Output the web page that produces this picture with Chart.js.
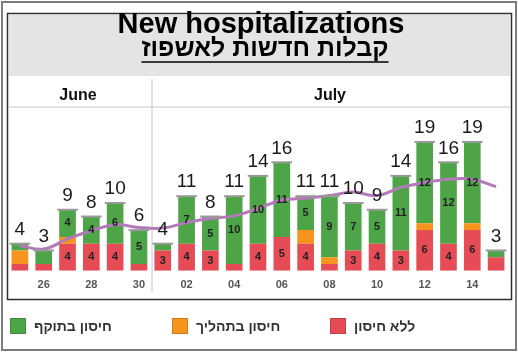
<!DOCTYPE html>
<html><head><meta charset="utf-8">
<script src="https://cdn.jsdelivr.net/npm/chart.js@4/dist/chart.umd.min.js"></script>
<style>html,body{margin:0;padding:0;background:#fff}#wrap{width:518px;height:354px}</style>
</head><body><div id="wrap"><canvas id="c" width="518" height="354"></canvas></div>
<script>
const dates = ['25','26','27','28','29','30','01','02','03','04','05','06','07','08','09','10','11','12','13','14','15'];
const vaccinated   = [1,2,4,4,6,5,1,7,5,10,10,11,5,9,7,5,11,12,12,12,1];
const inProcess    = [2,0,1,0,0,0,0,0,0,0,0,0,2,1,0,0,0,1,0,1,0];
const unvaccinated = [1,1,4,4,4,1,3,4,3,1,4,5,4,1,3,4,3,6,4,6,2];
const movingAvg    = [3.7,3.2,4.7,5.9,6.8,6.4,6.3,7.1,7.7,8.1,9.2,10.4,10.7,11.1,11.6,11.1,12.3,13.0,13.5,13.5,12.4];
const seriesNames = ['חיסון בתוקף','חיסון בתהליך','ללא חיסון'];
const titleEn = 'New hospitalizations';
const titleHe = 'קבלות חדשות לאשפוז';
const months = ['June','July'];

const GREEN='#4ea547', ORANGE='#f7941d', RED='#e64c55', PURPLE='#b27ab8';
const FONT = '"Liberation Sans","DejaVu Sans",Arial,sans-serif';

const framePlugin = {
  id:'frame',
  beforeDraw(chart){
    const ctx=chart.ctx;
    ctx.save();
    ctx.fillStyle='#fff'; ctx.fillRect(0,0,518,354);
    ctx.fillStyle='#e4e4e4'; ctx.fillRect(9,15,501,61);
    ctx.strokeStyle='#7c7c7c'; ctx.lineWidth=2; ctx.strokeRect(2,2,514,348);
    ctx.strokeStyle='#2e2e2e'; ctx.lineWidth=1.5; ctx.strokeRect(7.5,13.5,504,286);
    ctx.strokeStyle='#dadada'; ctx.lineWidth=1.5;
    ctx.beginPath(); ctx.moveTo(9,107); ctx.lineTo(510,107); ctx.stroke();
    ctx.beginPath(); ctx.moveTo(152,79); ctx.lineTo(152,292); ctx.stroke();
    // titles
    ctx.fillStyle='#000'; ctx.textAlign='center'; ctx.textBaseline='alphabetic';
    ctx.font='bold 29px '+FONT;
    ctx.fillText(titleEn,261,33);
    ctx.font='bold 25px '+FONT;
    ctx.fillText(titleHe,265,56);
    const w=ctx.measureText(titleHe).width;
    ctx.strokeStyle='#000'; ctx.lineWidth=1.5;
    ctx.beginPath(); ctx.moveTo(265-w/2,62); ctx.lineTo(265+w/2,62); ctx.stroke();
    ctx.font='bold 16px '+FONT;
    ctx.fillStyle='#111';
    ctx.fillText(months[0],78,100);
    ctx.fillText(months[1],330,100);
    ctx.restore();
  },
  afterDraw(chart){
    const ctx=chart.ctx;
    ctx.save();
    const xs=[10,172,330];
    const order=[2,1,0]; // green, orange, red
    order.forEach((di,i)=>{
      const ds=chart.data.datasets[di];
      ctx.fillStyle=ds.backgroundColor;
      ctx.fillRect(xs[i],318,16,16);
      ctx.strokeStyle='rgba(0,0,0,0.15)'; ctx.lineWidth=1;
      ctx.strokeRect(xs[i]+0.5,318.5,15,15);
      ctx.fillStyle='#333'; ctx.font='bold 14px '+FONT;
      ctx.textAlign='left'; ctx.textBaseline='middle';
      ctx.fillText(ds.label,xs[i]+24,327);
    });
    ctx.restore();
  }
};

const labelPlugin = {
  id:'labels',
  afterDatasetsDraw(chart){
    const ctx=chart.ctx, y=chart.scales.y;
    ctx.save();
    ctx.textAlign='center'; ctx.textBaseline='middle';
    [0,2].forEach(di=>{
      const meta=chart.getDatasetMeta(di);
      const data=chart.data.datasets[di].data;
      meta.data.forEach((el,i)=>{
        if(data[i]>=3){
          ctx.fillStyle='#222'; ctx.font='bold 11px '+FONT;
          ctx.fillText(String(data[i]),el.x,(el.y+el.base)/2);
        }
      });
    });
    const meta=chart.getDatasetMeta(0);
    meta.data.forEach((el,i)=>{
      const tot=vaccinated[i]+inProcess[i]+unvaccinated[i];
      const py=y.getPixelForValue(tot);
      ctx.strokeStyle='#9a9a9a'; ctx.lineWidth=2;
      ctx.beginPath(); ctx.moveTo(el.x-el.width/2-2,py); ctx.lineTo(el.x+el.width/2+2,py); ctx.stroke();
      ctx.fillStyle='#1a1a1a'; ctx.font='19px '+FONT;
      ctx.fillText(String(tot),el.x,py-14);
    });
    ctx.restore();
  }
};

new Chart(document.getElementById('c'),{
  data:{
    labels:dates,
    datasets:[
      {type:'bar',label:seriesNames[2],data:unvaccinated,backgroundColor:RED,order:1,stack:'s'},
      {type:'bar',label:seriesNames[1],data:inProcess,backgroundColor:ORANGE,order:1,stack:'s'},
      {type:'bar',label:seriesNames[0],data:vaccinated,backgroundColor:GREEN,order:1,stack:'s'},
      {type:'line',label:'avg',data:movingAvg,borderColor:PURPLE,borderWidth:3,pointRadius:0,tension:0.4,yAxisID:'y2',order:0}
    ]
  },
  options:{
    responsive:false,animation:false,devicePixelRatio:1,
    layout:{padding:{left:8,right:10,top:108,bottom:54}},
    datasets:{bar:{barPercentage:0.7,categoryPercentage:1}},
    plugins:{legend:{display:false},tooltip:{enabled:false}},
    scales:{
      x:{stacked:true,grid:{display:false,drawTicks:false},border:{display:false},
        ticks:{autoSkip:false,maxRotation:0,padding:8,color:'#555',font:{family:FONT,size:11,weight:'bold'},
          callback:(v,i)=> i%2===1 ? dates[i] : ''}},
      y:{stacked:true,min:0,max:24,display:false},
      y2:{min:0,max:24,display:false}
    }
  },
  plugins:[framePlugin,labelPlugin]
});
</script></body></html>
